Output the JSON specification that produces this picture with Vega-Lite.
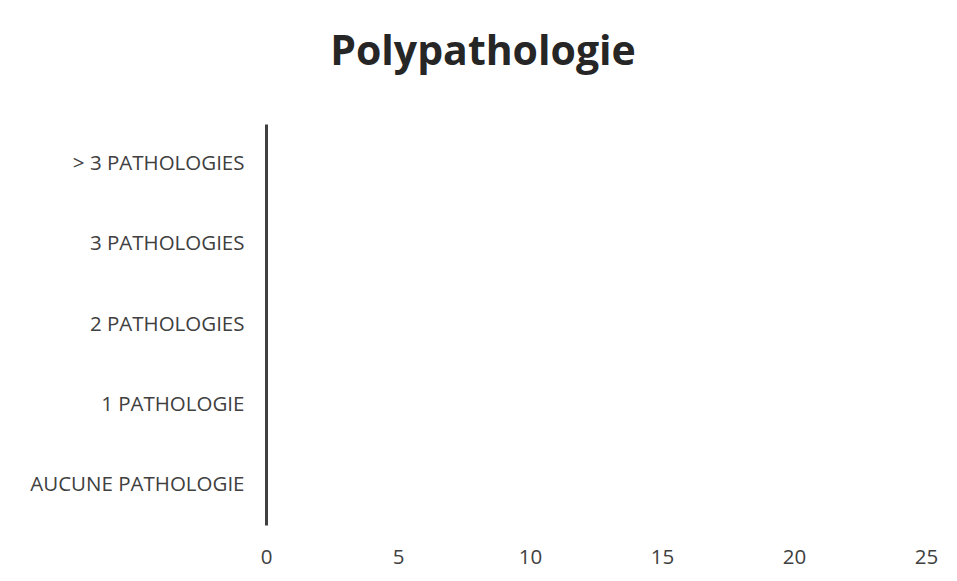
{
  "$schema": "https://vega.github.io/schema/vega-lite/v6.json",
  "autosize": "none",
  "width": 660,
  "height": 401,
  "padding": {"left": 266, "top": 124, "right": 31, "bottom": 56},
  "background": "white",
  "title": {
    "text": "Polypathologie",
    "font": "Open Sans",
    "fontSize": 41,
    "fontWeight": "bold",
    "color": "#262626",
    "anchor": "middle",
    "dx": -113,
    "offset": 50
  },
  "data": {
    "values": [
      {"categorie": "> 3 PATHOLOGIES", "nombre": 0},
      {"categorie": "3 PATHOLOGIES", "nombre": 0},
      {"categorie": "2 PATHOLOGIES", "nombre": 0},
      {"categorie": "1 PATHOLOGIE", "nombre": 0},
      {"categorie": "AUCUNE PATHOLOGIE", "nombre": 0}
    ]
  },
  "mark": {"type": "bar", "color": "#4472C4"},
  "encoding": {
    "y": {
      "field": "categorie",
      "type": "nominal",
      "sort": ["> 3 PATHOLOGIES", "3 PATHOLOGIES", "2 PATHOLOGIES", "1 PATHOLOGIE", "AUCUNE PATHOLOGIE"],
      "title": null,
      "axis": {
        "domain": true,
        "domainColor": "#404040",
        "domainWidth": 3,
        "ticks": false,
        "grid": false,
        "labelFont": "Open Sans",
        "labelFontSize": 20.5,
        "labelColor": "#404040",
        "labelPadding": 22,
        "labelLimit": 400
      }
    },
    "x": {
      "field": "nombre",
      "type": "quantitative",
      "title": null,
      "scale": {"domain": [0, 25]},
      "axis": {
        "values": [0, 5, 10, 15, 20, 25],
        "domain": false,
        "ticks": false,
        "grid": false,
        "labelFont": "Open Sans",
        "labelFontSize": 20.5,
        "labelColor": "#404040",
        "labelPadding": 22,
        "labelFlush": false
      }
    }
  },
  "config": {"view": {"stroke": null}}
}
